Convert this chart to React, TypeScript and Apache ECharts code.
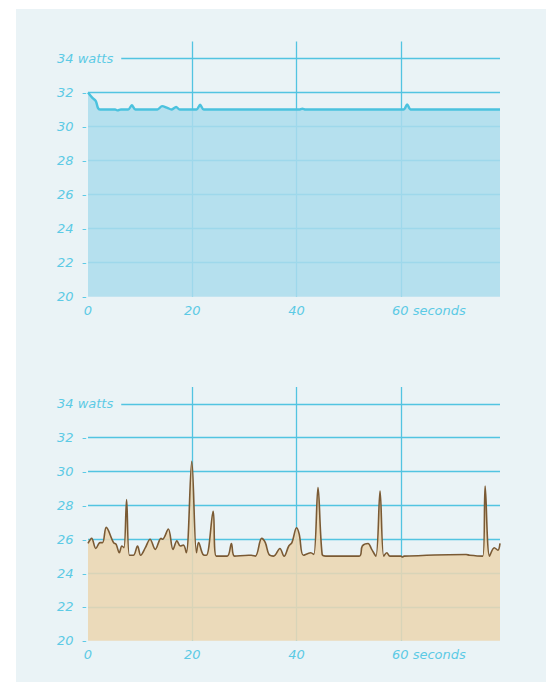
import React, { useEffect, useRef } from "react";
import * as echarts from "echarts";

// Top chart: power draw (watts) over time (seconds)
const topTimes = [0, 0.8, 1.5, 1.9, 2.3, 5.2, 5.7, 6.3, 7.7, 8.4, 9.1, 13.3, 14.2, 15.2, 16, 16.9, 17.6, 20.8, 21.5, 22.2, 40.5, 41.1, 41.7, 60.5, 61.2, 61.9, 79];
const topWatts = [32, 31.7, 31.5, 31.1, 31, 31, 30.95, 31, 31, 31.25, 31, 31, 31.2, 31.1, 31, 31.15, 31, 31, 31.28, 31, 31, 31.05, 31, 31, 31.3, 31, 31];

// Bottom chart
const bottomTimes = [0, 0.7, 1.5, 2.3, 2.8, 3.5, 4.9, 5.4, 6, 6.5, 6.9, 7.4, 7.95, 8.7, 9.5, 10.1, 11, 11.9, 12.9, 14, 14.3, 15.4, 16.3, 17.05, 17.7, 18.3, 18.85, 19.9, 20.8, 21.2, 22.05, 22.7, 24, 24.6, 26.7, 27.5, 28.1, 30.8, 31.3, 32.1, 33.3, 34, 34.7, 35.6, 36.8, 37.6, 38.5, 39.1, 40, 40.5, 41.3, 42.7, 43.3, 44.1, 44.9, 45.6, 52, 52.6, 53.7, 54.4, 55.2, 56, 56.7, 57.3, 57.9, 60, 60.3, 60.6, 72.5, 73.2, 75.7, 76.15, 77, 77.9, 78.6, 79];
const bottomWatts = [25.75, 26.05, 25.45, 25.8, 25.8, 26.7, 25.8, 25.7, 25.2, 25.6, 25.5, 28.35, 25.05, 25.05, 25.6, 25.05, 25.5, 26.0, 25.4, 26.05, 26.0, 26.6, 25.4, 25.9, 25.6, 25.65, 25.2, 30.6, 25.2, 25.8, 25.1, 25.05, 27.65, 25.0, 25.0, 25.75, 25.0, 25.05, 25.05, 25.0, 26.05, 25.8, 25.1, 25.0, 25.45, 25.0, 25.6, 25.8, 26.68, 26.3, 25.05, 25.2, 25.1, 29.05, 25.1, 25.0, 25.0, 25.6, 25.75, 25.4, 25.0, 28.85, 25.0, 25.2, 25.0, 25.0, 24.95, 25.0, 25.1, 25.05, 25.0, 29.15, 25.0, 25.5, 25.35, 25.75];

const xTicks = [0, 20, 40, 60];
const yTicks = [20, 22, 24, 26, 28, 30, 32, 34];
const xUnit = "seconds";
const yUnit = "watts";

const PANEL = "#EAF3F6";
const GRIDC = "#52C4E1";
const LABELC = "#5CCAE5";
const FONT = "DejaVu Sans";

export default function App() {
  const ref = useRef<HTMLDivElement>(null);
  useEffect(() => {
    if (!ref.current) return;
    const chart = echarts.init(ref.current, undefined, { renderer: "svg" });
    const labelBase = {
      color: LABELC,
      fontFamily: FONT,
      fontSize: 13,
      fontStyle: "italic" as const,
    };
    const mkX = (gi: number) => ({
      type: "value" as const,
      gridIndex: gi,
      min: xTicks[0],
      max: 79,
      interval: xTicks[1] - xTicks[0],
      axisLine: { show: false },
      axisTick: { show: false },
      splitLine: { show: true, showMinLine: false, showMaxLine: false, lineStyle: { color: GRIDC, width: 1.3 } },
      axisLabel: {
        ...labelBase,
        margin: 7,
        showMaxLabel: false,
        formatter: (v: number) => (v === xTicks[xTicks.length - 1] ? `{pad|}${v} ${xUnit}` : String(v)),
        rich: { pad: { width: 56 } },
      },
    });
    const mkY = (gi: number) => ({
      type: "value" as const,
      gridIndex: gi,
      min: yTicks[0],
      max: 35,
      interval: yTicks[1] - yTicks[0],
      axisLine: { show: false },
      axisTick: { show: false },
      splitLine: { show: true, showMinLine: false, showMaxLine: false, lineStyle: { color: GRIDC, width: 1.3 } },
      axisLabel: {
        ...labelBase,
        align: "left" as const,
        margin: 31,
        showMaxLabel: false,
        formatter: (v: number) => (v === yTicks[yTicks.length - 1] ? `{w|${v} ${yUnit}}` : `${v}  -`),
        rich: {
          w: { ...labelBase, backgroundColor: PANEL, padding: [3, 8, 3, 0] },
        },
      },
    });
    chart.setOption({
      animation: false,
      backgroundColor: "transparent",
      grid: [
        { left: 88, width: 412, top: 41.5, height: 255.2 },
        { left: 88, width: 412, top: 387, height: 253.7 },
      ],
      xAxis: [mkX(0), mkX(1)],
      yAxis: [mkY(0), mkY(1)],
      series: [
        {
          type: "line",
          xAxisIndex: 0,
          yAxisIndex: 0,
          data: topTimes.map((t, i) => [t, topWatts[i]]),
          showSymbol: false,
          smooth: 0.3,
          lineStyle: { color: "#4BC2DE", width: 2.4 },
          areaStyle: { color: "rgb(172,220,236)", opacity: 0.85, origin: "start" },
        },
        {
          type: "line",
          xAxisIndex: 1,
          yAxisIndex: 1,
          data: bottomTimes.map((t, i) => [t, bottomWatts[i]]),
          showSymbol: false,
          smooth: 0.35,
          lineStyle: { color: "#7A5A34", width: 1.6 },
          areaStyle: { color: "rgb(234,214,178)", opacity: 0.88, origin: "start" },
        },
      ],
    });
    return () => chart.dispose();
  }, []);
  return (
    <div style={{ position: "fixed", left: 0, top: 0, width: 546, height: 682, background: "#fff" }}>
      <div style={{ position: "absolute", left: 16, top: 9, width: 530, height: 673, background: PANEL }} />
      <div ref={ref} style={{ position: "absolute", left: 0, top: 0, width: 546, height: 682 }} />
    </div>
  );
}
